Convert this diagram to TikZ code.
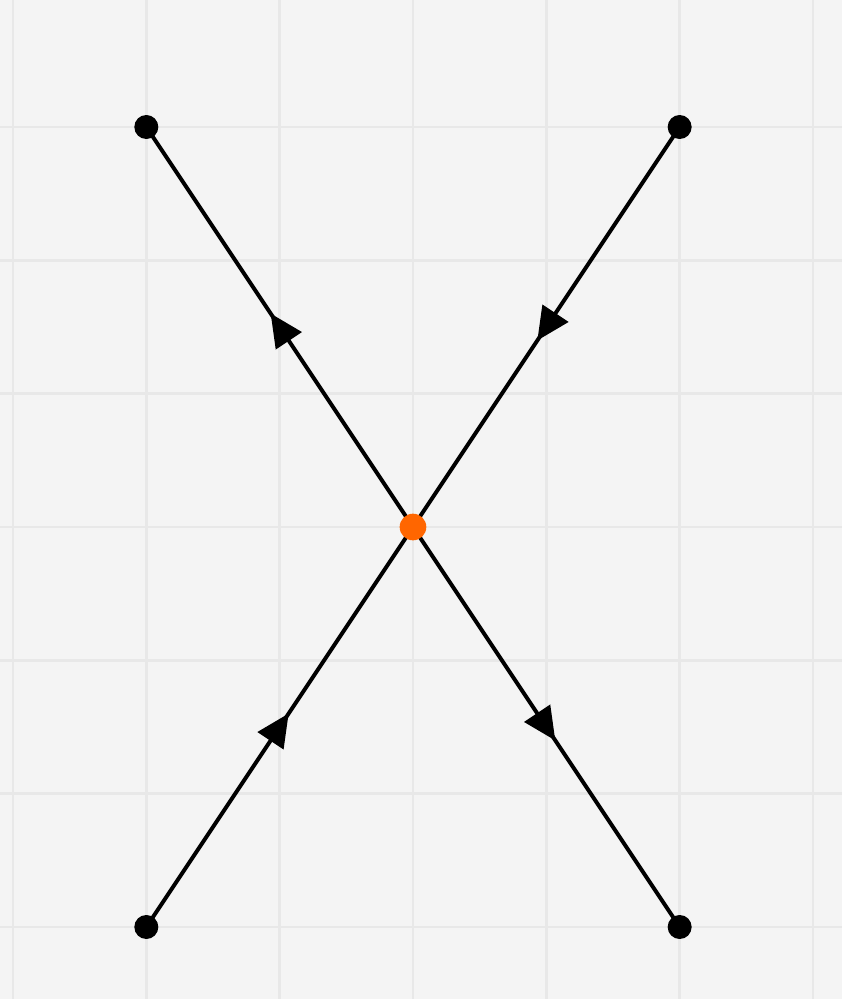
\documentclass[tikz,border=0pt]{standalone}
\usetikzlibrary{arrows.meta,decorations.markings}
\definecolor{paper}{HTML}{F4F4F4}
\definecolor{gridline}{HTML}{E8E8E8}
\definecolor{saddle}{HTML}{FF6600}
\tikzset{
  orbit/.style={line width=0.85pt,postaction={decorate},
    decoration={markings,mark=at position 0.5 with {\arrow[xshift=3.5pt]{Triangle[length=7pt,width=6.5pt]}}}},
  endpt/.style={circle,fill=black,inner sep=0pt,minimum size=0.18cm},
}
\begin{document}
\begin{tikzpicture}[line cap=round]
  % fond et grille
  \fill[paper] (-3.0975,-3.54) rectangle (3.2175,3.9525);
  \useasboundingbox (-3.0975,-3.54) rectangle (3.2175,3.9525);
  \draw[gridline,line width=0.6pt] (-3.0975,-3.54) grid (3.2175,3.9525);
  % points
  \coordinate (o) at (0,0);
  \coordinate (tl) at (-2,3);
  \coordinate (tr) at (2,3);
  \coordinate (bl) at (-2,-3);
  \coordinate (br) at (2,-3);
  % variete stable (entrante) et instable (sortante)
  \draw[orbit] (tr) -- (o);
  \draw[orbit] (bl) -- (o);
  \draw[orbit] (o) -- (tl);
  \draw[orbit] (o) -- (br);
  \node[endpt] (ptl) at (tl) {};
  \node[endpt] (ptr) at (tr) {};
  \node[endpt] (pbl) at (bl) {};
  \node[endpt] (pbr) at (br) {};
  \node[circle,fill=saddle,inner sep=0pt,minimum size=0.2cm] (po) at (o) {};
\end{tikzpicture}
\end{document}
